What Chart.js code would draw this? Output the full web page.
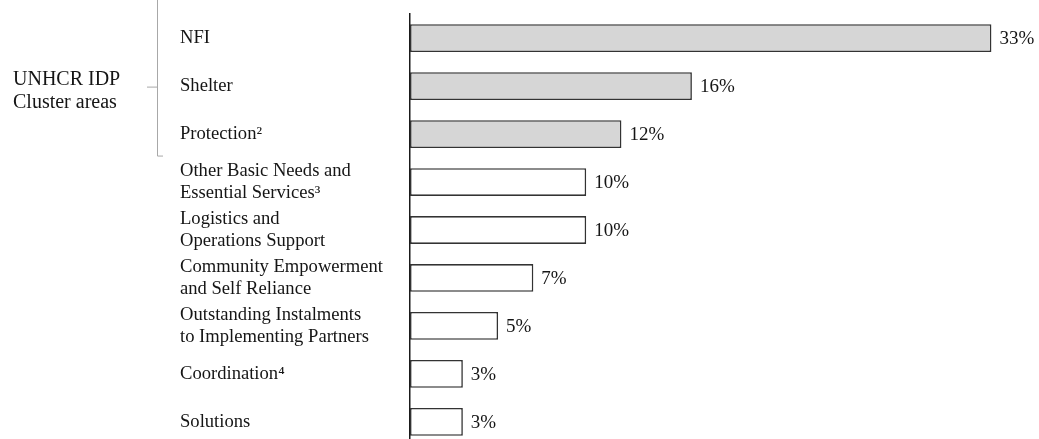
<!DOCTYPE html>
<html><head><meta charset="utf-8">
<script src="https://cdn.jsdelivr.net/npm/chart.js@4/dist/chart.umd.min.js"></script>
<style>
html,body{margin:0;padding:0;background:#fff;overflow:hidden;width:1039px;height:439px}
#wrap{position:absolute;left:0;top:0;width:1039px;height:460px}
</style>
</head><body><div id="wrap"><canvas id="c" width="1039" height="460"></canvas></div>
<script>
const categories = [
  'NFI',
  'Shelter',
  'Protection\u00B2',
  ['Other Basic Needs and', 'Essential Services\u00B3'],
  ['Logistics and', 'Operations Support'],
  ['Community Empowerment', 'and Self Reliance'],
  ['Outstanding Instalments', 'to Implementing Partners'],
  'Coordination\u2074',
  'Solutions'
];
const shares = [33, 16, 12, 10, 10, 7, 5, 3, 3];
const valueLabels = ['33%', '16%', '12%', '10%', '10%', '7%', '5%', '3%', '3%'];
const isClusterArea = [true, true, true, false, false, false, false, false, false];
const groupLabel = ['UNHCR IDP', 'Cluster areas'];

const SERIF = '"Liberation Serif", "Times New Roman", serif';

const valueLabelPlugin = {
  id: 'valueLabels',
  afterDatasetsDraw(chart) {
    const ctx = chart.ctx;
    const meta = chart.getDatasetMeta(0);
    ctx.save();
    ctx.font = '19px ' + SERIF;
    ctx.fillStyle = '#151515';
    ctx.textAlign = 'left';
    ctx.textBaseline = 'middle';
    meta.data.forEach((bar, i) => {
      ctx.fillText(valueLabels[i], bar.x + 8, bar.y + 1);
    });
    ctx.restore();
  }
};

const groupPlugin = {
  id: 'groupBracket',
  afterDraw(chart) {
    const ctx = chart.ctx;
    const y = chart.scales.y;
    const top = -5;
    const bottom = y.getPixelForValue(2) + 22;
    const mid = (y.getPixelForValue(0) + y.getPixelForValue(2)) / 2 + 1;
    ctx.save();
    ctx.strokeStyle = '#a8a8a8';
    ctx.lineWidth = 1;
    ctx.beginPath();
    ctx.moveTo(157.5, top);
    ctx.lineTo(157.5, bottom);
    ctx.lineTo(163, bottom);
    ctx.moveTo(147, mid);
    ctx.lineTo(157.5, mid);
    ctx.stroke();
    ctx.font = '20px ' + SERIF;
    ctx.fillStyle = '#151515';
    ctx.textAlign = 'left';
    ctx.textBaseline = 'alphabetic';
    ctx.fillText(groupLabel[0], 13, mid - 2);
    ctx.fillText(groupLabel[1], 13, mid + 21);
    ctx.restore();
  }
};

new Chart(document.getElementById('c'), {
  type: 'bar',
  data: {
    labels: categories,
    datasets: [{
      data: shares,
      backgroundColor: isClusterArea.map(f => f ? '#d6d6d6' : '#ffffff'),
      borderColor: '#333333',
      borderWidth: 1.6,
      borderSkipped: false,
      categoryPercentage: 1,
      barPercentage: 0.58
    }]
  },
  options: {
    indexAxis: 'y',
    responsive: false,
    animation: false,
    layout: { padding: { top: 14, bottom: 11, left: 180, right: 0 } },
    plugins: { legend: { display: false }, tooltip: { enabled: false }, title: { display: false } },
    scales: {
      x: {
        display: false,
        min: 0,
        max: 35.7
      },
      y: {
        grid: { display: false },
        border: { display: true, color: '#1a1a1a', width: 1.5 },
        ticks: {
          autoSkip: false,
          crossAlign: 'far',
          color: '#151515',
          font: { family: SERIF, size: 18.6, lineHeight: 1.2 }
        },
        afterFit(scale) { scale.width = 230; }
      }
    }
  },
  plugins: [valueLabelPlugin, groupPlugin]
});
</script>
</body></html>
